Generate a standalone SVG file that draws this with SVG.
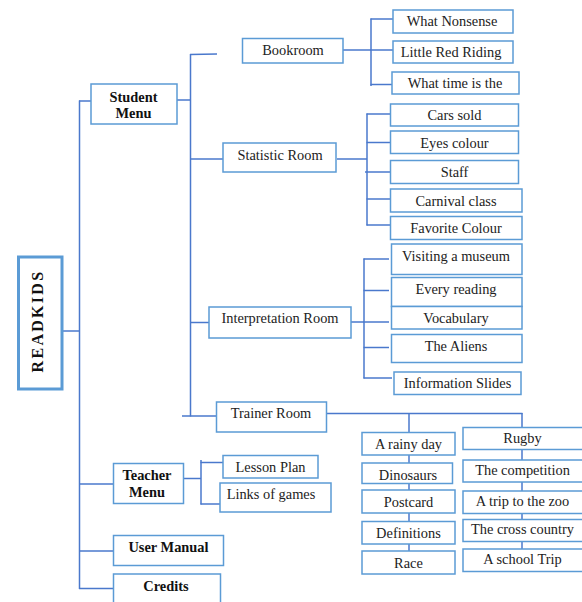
<svg xmlns="http://www.w3.org/2000/svg" width="582" height="602" viewBox="0 0 582 602">
<style>
.b{fill:#fff;stroke:#5B9BD5;stroke-width:1.5}
.t{font-family:"Liberation Serif","Times New Roman",serif;font-size:14.4px;fill:#222;text-anchor:middle}
.bd{font-weight:bold;fill:#111}
#connectors line{stroke:#4A78CC;stroke-width:1.5}
</style>
<rect width="582" height="602" fill="#fff"/>
<g id="connectors">
<line x1="79.5" y1="100.5" x2="79.5" y2="589"/>
<line x1="79" y1="101" x2="91" y2="101"/>
<line x1="62" y1="331" x2="79.5" y2="331"/>
<line x1="79" y1="484" x2="113" y2="484"/>
<line x1="79" y1="551" x2="113" y2="551"/>
<line x1="79" y1="588.5" x2="113" y2="588.5"/>
<line x1="177" y1="100" x2="191" y2="100"/>
<line x1="190.5" y1="54" x2="190.5" y2="416.5"/>
<line x1="190" y1="54.5" x2="217" y2="54"/>
<line x1="190" y1="159" x2="223" y2="159"/>
<line x1="190" y1="322.5" x2="209" y2="322.5"/>
<line x1="182" y1="416" x2="216" y2="416"/>
<line x1="343" y1="50" x2="371" y2="50"/>
<line x1="371" y1="18.5" x2="371" y2="86"/>
<line x1="370.5" y1="19" x2="393" y2="19"/>
<line x1="370.5" y1="50" x2="393" y2="50"/>
<line x1="370.5" y1="84.5" x2="392" y2="84.5"/>
<line x1="337" y1="159" x2="367" y2="159"/>
<line x1="367" y1="113.5" x2="367" y2="225.5"/>
<line x1="366.5" y1="114" x2="390" y2="114"/>
<line x1="366.5" y1="142.5" x2="390" y2="142.5"/>
<line x1="365" y1="172" x2="390" y2="172"/>
<line x1="366.5" y1="199" x2="390" y2="199"/>
<line x1="366.5" y1="225" x2="390" y2="225"/>
<line x1="351" y1="322" x2="364" y2="322"/>
<line x1="364" y1="258.5" x2="364" y2="378.5"/>
<line x1="363.5" y1="259" x2="389" y2="259"/>
<line x1="363.5" y1="290.5" x2="389" y2="290.5"/>
<line x1="363.5" y1="322" x2="389" y2="322"/>
<line x1="363.5" y1="347.5" x2="389" y2="347.5"/>
<line x1="363.5" y1="378" x2="392" y2="378"/>
<line x1="327" y1="413.5" x2="522.5" y2="413.5"/>
<line x1="409" y1="413" x2="409" y2="432"/>
<line x1="522" y1="413" x2="522" y2="427"/>
<line x1="409" y1="455" x2="409" y2="463"/>
<line x1="409" y1="483" x2="409" y2="490"/>
<line x1="409" y1="513" x2="409" y2="521"/>
<line x1="409" y1="544" x2="409" y2="551"/>
<line x1="522" y1="449" x2="522" y2="460"/>
<line x1="522" y1="482" x2="522" y2="491"/>
<line x1="522" y1="513" x2="522" y2="519"/>
<line x1="522" y1="542" x2="522" y2="549"/>
<line x1="184" y1="478.5" x2="201" y2="478.5"/>
<line x1="201" y1="460" x2="201" y2="504.5"/>
<line x1="200.5" y1="462.5" x2="223" y2="462.5"/>
<line x1="200.5" y1="504" x2="220" y2="504"/>
</g>
<g id="readkids"><rect class="b" x="18.5" y="257" width="43.5" height="132" style="stroke-width:3"/><text class="t bd" x="38" y="327.7" transform="rotate(-90 37 322)" style="font-size:16px;letter-spacing:2.3px">READKIDS</text></g>
<g id="student-menu"><rect class="b" x="91" y="84" width="86" height="40"/><text class="t bd" x="133.5" y="101.5">Student</text><text class="t bd" x="133.5" y="118">Menu</text></g>
<g id="bookroom"><rect class="b" x="242.5" y="38.5" width="100.5" height="24.5"/><text class="t" x="293" y="55">Bookroom</text></g>
<g id="what-nonsense"><rect class="b" x="393" y="10" width="120" height="23"/><text class="t" x="452" y="25.5">What Nonsense</text></g>
<g id="little-red"><rect class="b" x="393" y="41" width="120" height="22"/><text class="t" x="451" y="57">Little Red Riding</text></g>
<g id="what-time"><rect class="b" x="392" y="72" width="127" height="22"/><text class="t" x="455" y="87.5">What time is the</text></g>
<g id="statistic-room"><rect class="b" x="223" y="143" width="113" height="29"/><text class="t" x="280" y="160">Statistic Room</text></g>
<g id="cars-sold"><rect class="b" x="390.5" y="104" width="128" height="22"/><text class="t" x="454.5" y="120">Cars sold</text></g>
<g id="eyes-colour"><rect class="b" x="390.5" y="131" width="128" height="22.5"/><text class="t" x="454.5" y="147.5">Eyes colour</text></g>
<g id="staff"><rect class="b" x="390.5" y="160.5" width="128" height="23"/><text class="t" x="454.5" y="177">Staff</text></g>
<g id="carnival-class"><rect class="b" x="390.5" y="189" width="131.5" height="23"/><text class="t" x="456" y="205.5">Carnival class</text></g>
<g id="favorite-colour"><rect class="b" x="390.5" y="216.5" width="131.5" height="23"/><text class="t" x="456" y="233">Favorite Colour</text></g>
<g id="interpretation-room"><rect class="b" x="209" y="307" width="142" height="31"/><text class="t" x="280" y="323">Interpretation Room</text></g>
<g id="visiting-museum"><rect class="b" x="391.5" y="244" width="130.5" height="30.5"/><text class="t" x="456" y="261">Visiting a museum</text></g>
<g id="every-reading"><rect class="b" x="391.5" y="277.5" width="130.5" height="29"/><text class="t" x="456" y="294">Every reading</text></g>
<g id="vocabulary"><rect class="b" x="391.5" y="306.5" width="130.5" height="22.5"/><text class="t" x="456" y="323">Vocabulary</text></g>
<g id="the-aliens"><rect class="b" x="391.5" y="334.5" width="130.5" height="28"/><text class="t" x="456" y="350.5">The Aliens</text></g>
<g id="information-slides"><rect class="b" x="394" y="372" width="127" height="22.5"/><text class="t" x="457.5" y="388">Information Slides</text></g>
<g id="trainer-room"><rect class="b" x="216.5" y="402" width="110" height="30"/><text class="t" x="271" y="418">Trainer Room</text></g>
<g id="rainy-day"><rect class="b" x="362" y="432.5" width="93" height="22.5"/><text class="t" x="408.5" y="449">A rainy day</text></g>
<g id="dinosaurs"><rect class="b" x="362" y="463" width="90.5" height="20.5"/><text class="t" x="408" y="480">Dinosaurs</text></g>
<g id="postcard"><rect class="b" x="362" y="490" width="93" height="23"/><text class="t" x="408.5" y="506.5">Postcard</text></g>
<g id="definitions"><rect class="b" x="362" y="521.5" width="93" height="22.5"/><text class="t" x="408.5" y="537.5">Definitions</text></g>
<g id="race"><rect class="b" x="362" y="551" width="93" height="23"/><text class="t" x="408.5" y="567.5">Race</text></g>
<g id="rugby"><rect class="b" x="463" y="427.5" width="125" height="22"/><text class="t" x="522.5" y="443">Rugby</text></g>
<g id="competition"><rect class="b" x="463" y="460" width="125" height="22"/><text class="t" x="522.5" y="475">The competition</text></g>
<g id="trip-zoo"><rect class="b" x="463" y="491" width="125" height="22.5"/><text class="t" x="522.5" y="506">A trip to the zoo</text></g>
<g id="cross-country"><rect class="b" x="463" y="519.5" width="125" height="22"/><text class="t" x="522.5" y="534">The cross country</text></g>
<g id="school-trip"><rect class="b" x="463" y="549" width="125" height="22.5"/><text class="t" x="522.5" y="564">A school Trip</text></g>
<g id="teacher-menu"><rect class="b" x="113.5" y="463.5" width="70" height="40"/><text class="t bd" x="147" y="480">Teacher</text><text class="t bd" x="147" y="496.5">Menu</text></g>
<g id="lesson-plan"><rect class="b" x="223" y="455.5" width="95" height="22.5"/><text class="t" x="270.5" y="471.5">Lesson Plan</text></g>
<g id="links-games"><rect class="b" x="220" y="483" width="111" height="29"/><text class="t" x="271" y="499">Links of games</text></g>
<g id="user-manual"><rect class="b" x="113.5" y="535.5" width="110" height="30"/><text class="t bd" x="168.5" y="551.5">User Manual</text></g>
<g id="credits"><rect class="b" x="113.5" y="574" width="107" height="32"/><text class="t bd" x="166" y="590.5">Credits</text></g>
</svg>
